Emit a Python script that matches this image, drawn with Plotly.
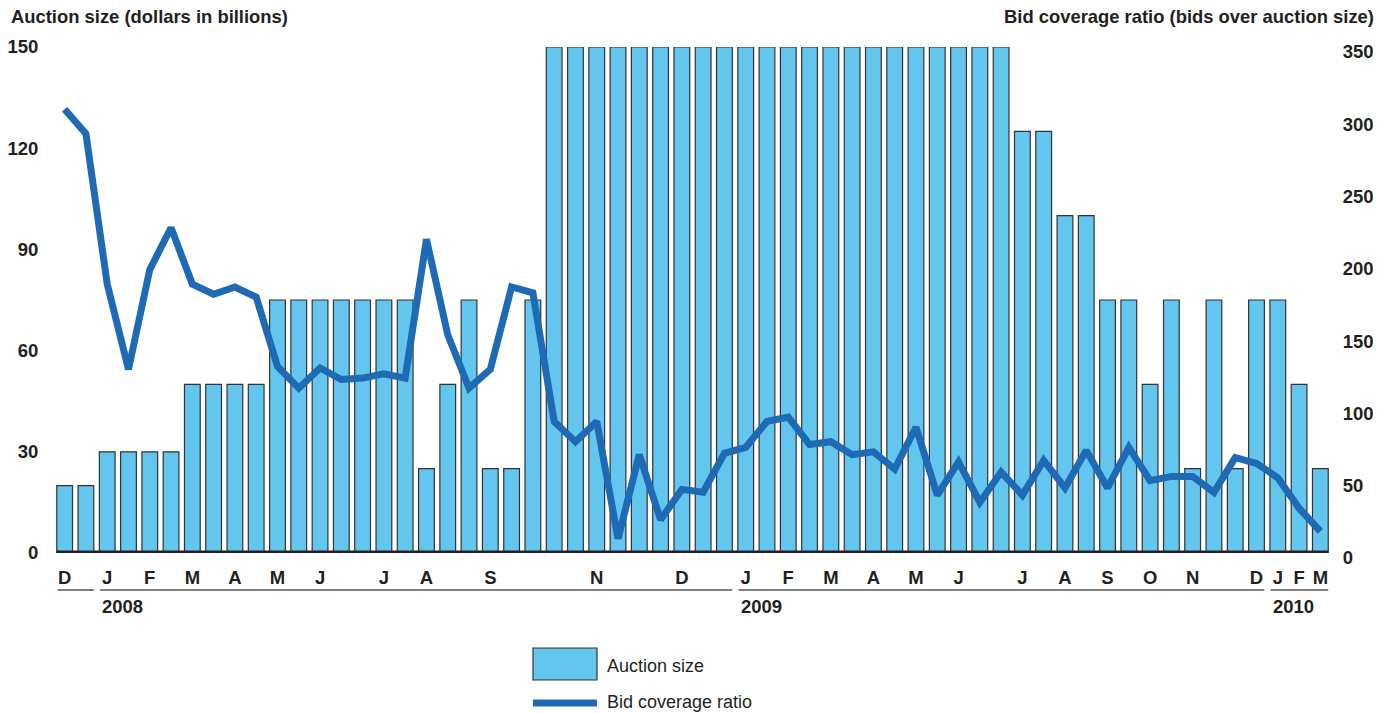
import plotly.graph_objects as go

# ---- data ----
auction_size = [20, 20, 30, 30, 30, 30, 50, 50, 50, 50,
                75, 75, 75, 75, 75, 75, 75, 25, 50, 75,
                25, 25, 75, 150, 150, 150, 150, 150, 150, 150,
                150, 150, 150, 150, 150, 150, 150, 150, 150, 150,
                150, 150, 150, 150, 150, 125, 125, 100, 100, 75,
                75, 50, 75, 25, 75, 25, 75, 75, 50, 25]
bid_coverage = [307, 290, 186, 127, 196, 225, 186, 179, 184, 177,
                129, 114, 128, 120, 121, 124, 121, 217, 151, 114,
                127, 184, 180, 91, 77, 91, 10, 68, 23, 44,
                42, 69, 73, 91, 94, 75, 77, 68, 70, 58,
                87, 40, 63, 35, 56, 40, 64, 45, 71, 45,
                73, 50, 53, 53, 42, 66, 62, 52, 31, 15]
month_tick_pos = [0, 2, 4, 6, 8, 10, 12, 15, 17, 20, 25, 29, 32, 34, 36, 38,
                  40, 42, 45, 47, 49, 51, 53, 56, 57, 58, 59]
month_tick_text = ["D", "J", "F", "M", "A", "M", "J", "J", "A", "S", "N", "D",
                   "J", "F", "M", "A", "M", "J", "J", "A", "S", "O", "N", "D",
                   "J", "F", "M"]
year_labels = ["", "2008", "2009", "2010"]
year_start = [0, 2, 32, 57]
year_end = [1, 31, 56, 59]
left_ticks = [0, 30, 60, 90, 120, 150]
right_ticks = [0, 50, 100, 150, 200, 250, 300, 350]

x = list(range(len(auction_size)))

W, H = 1389, 713
# plot area in page pixels
L, R, T, B = 54, 1331, 47, 553
TXT = "#231F20"
BAR = "#62C6EE"
LINE = "#1E6AB4"
FONT = "Liberation Sans"
TICKFONT = dict(family=FONT, size=18.5, color=TXT, weight="bold")


def py(p):
    return (B - p) / (B - T)


def px(p):
    return (p - L) / (R - L)


fig = go.Figure()
fig.add_trace(go.Bar(x=x, y=auction_size, name="Auction size",
                     marker=dict(color=BAR, line=dict(color="#333333", width=1.2)),
                     width=0.74, yaxis="y"))
fig.add_trace(go.Scatter(x=x, y=bid_coverage, name="Bid coverage ratio",
                         mode="lines", line=dict(color=LINE, width=7),
                         yaxis="y2", cliponaxis=False))

shapes = []
# baseline
shapes.append(dict(type="line", xref="x", yref="y", x0=-0.38, x1=len(x) - 1 + 0.38,
                   y0=0, y1=0, line=dict(color=TXT, width=5), layer="above"))
annotations = []
for lab, s, e in zip(year_labels, year_start, year_end):
    shapes.append(dict(type="line", xref="x", yref="paper", x0=s - 0.33, x1=e + 0.37,
                       y0=py(590), y1=py(590), line=dict(color="#555555", width=1.5)))
    if lab:
        annotations.append(dict(text=lab, xref="x", yref="paper", x=s - 0.33, y=py(606),
                                xanchor="left", yanchor="middle", showarrow=False,
                                font=dict(family=FONT, size=18.5, color=TXT, weight="bold")))

# axis titles
annotations.append(dict(text="<b>Auction size (dollars in billions)</b>", xref="paper", yref="paper",
                        x=px(9), y=py(17), xanchor="left", yanchor="middle", showarrow=False,
                        font=dict(family=FONT, size=18.4, color=TXT)))
annotations.append(dict(text="<b>Bid coverage ratio (bids over auction size)</b>", xref="paper", yref="paper",
                        x=px(1376), y=py(17), xanchor="right", yanchor="middle", showarrow=False,
                        font=dict(family=FONT, size=18.4, color=TXT)))

# legend (drawn manually)
shapes.append(dict(type="rect", xref="paper", yref="paper", x0=px(533), x1=px(597),
                   y0=py(648), y1=py(680), fillcolor=BAR, line=dict(color="#333333", width=1.2)))
shapes.append(dict(type="line", xref="paper", yref="paper", x0=px(533), x1=px(597),
                   y0=py(703), y1=py(703), line=dict(color=LINE, width=7)))
annotations.append(dict(text="Auction size", xref="paper", yref="paper", x=px(605), y=py(666),
                        xanchor="left", yanchor="middle", showarrow=False,
                        font=dict(family=FONT, size=18, color=TXT)))
annotations.append(dict(text="Bid coverage ratio", xref="paper", yref="paper", x=px(605), y=py(702),
                        xanchor="left", yanchor="middle", showarrow=False,
                        font=dict(family=FONT, size=18, color=TXT)))

fig.update_layout(
    width=W, height=H,
    margin=dict(l=L, r=W - R, t=T, b=H - B, pad=0, autoexpand=False),
    plot_bgcolor="white", paper_bgcolor="white",
    showlegend=False,
    bargap=0.26,
    shapes=shapes, annotations=annotations,
    xaxis=dict(range=[-0.5, len(x) - 0.5], tickmode="array", tickvals=month_tick_pos,
               ticktext=month_tick_text, showgrid=False, zeroline=False, showline=False,
               ticks="outside", ticklen=8, tickcolor="rgba(0,0,0,0)", automargin=False,
               tickfont=TICKFONT),
    yaxis=dict(range=[0, 150], tickmode="array", tickvals=left_ticks, showgrid=False,
               zeroline=False, showline=False, ticks="outside", ticklen=11,
               tickcolor="rgba(0,0,0,0)", automargin=False, tickfont=TICKFONT),
    yaxis2=dict(range=[0, 350], overlaying="y", side="right", tickmode="array",
                tickvals=right_ticks, showgrid=False, zeroline=False, showline=False,
                ticks="outside", ticklen=7, tickcolor="rgba(0,0,0,0)", automargin=False,
                ticklabelshift=5, tickfont=TICKFONT),
)

fig.write_html("out.html", config={"displayModeBar": False},
               post_script="document.body.style.margin='0';document.body.style.overflow='hidden';")
